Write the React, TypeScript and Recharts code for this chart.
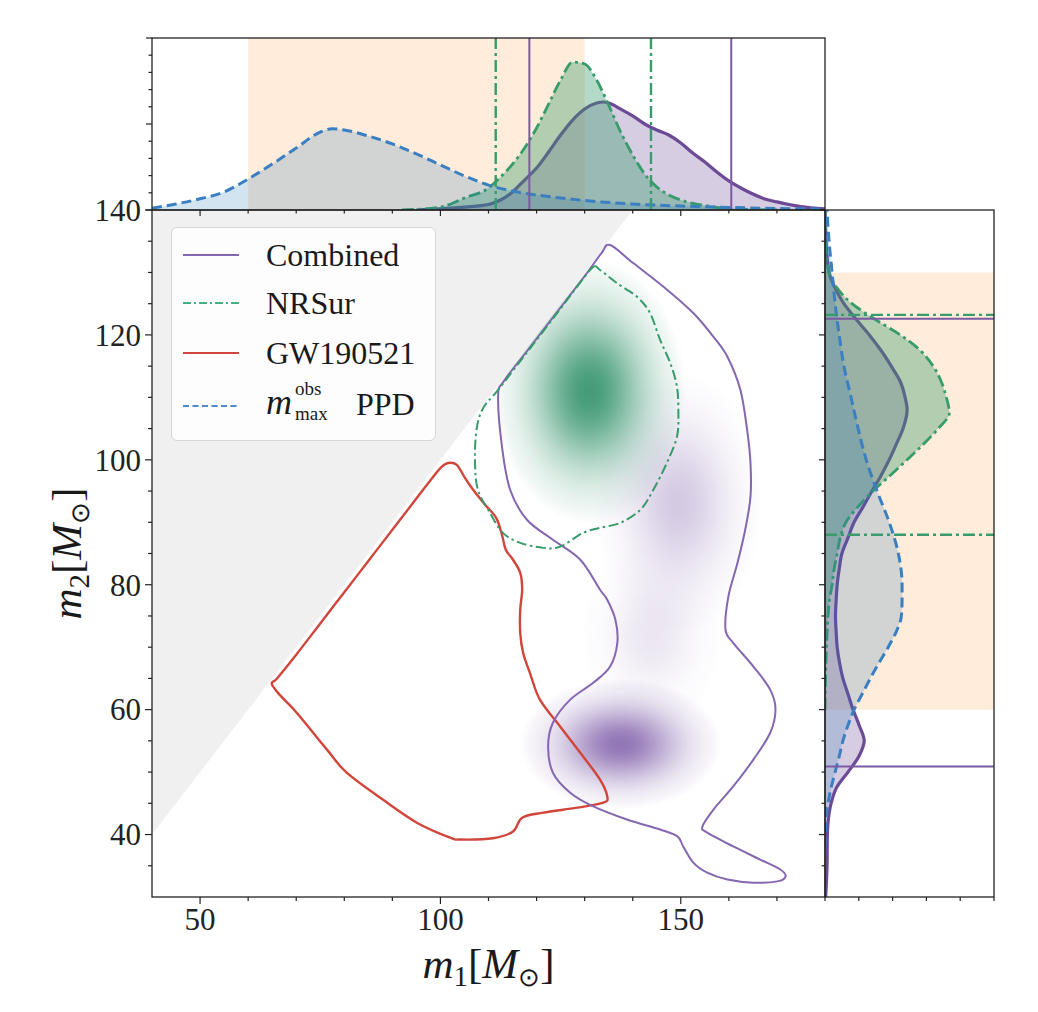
import React from 'react';
import { ComposedChart, Scatter, Area, XAxis, YAxis, ReferenceLine, ReferenceArea } from 'recharts';

// ---------- layout ----------
const W = 1038, H = 1012;
const PL = 152, PR = 825, PT = 210, PB = 897, TT = 38, RR = 994;
const YW = 60, XH = 40;
const M1_DOMAIN: [number, number] = [40, 180];
const M2_DOMAIN: [number, number] = [30, 140];
const PX_X = (PR - PL) / (M1_DOMAIN[1] - M1_DOMAIN[0]);
const PX_Y = (PB - PT) / (M2_DOMAIN[1] - M2_DOMAIN[0]);
const FONT = '"Liberation Serif", "Times New Roman", serif';

// ---------- ticks ----------
const m1Ticks = [50, 60, 70, 80, 90, 100, 110, 120, 130, 140, 150, 160, 170];
const m1Majors = [50, 100, 150];
const m2Ticks = [35, 40, 45, 50, 55, 60, 65, 70, 75, 80, 85, 90, 95, 100, 105, 110, 115, 120, 125, 130, 135, 140];
const m2Majors = [40, 60, 80, 100, 120, 140];
const topDensTicks = [0, 1, 2, 3, 4, 5, 6, 7, 8, 9, 10];
const topDensMajors = [0, 5, 10];
const rightDensTicks = [0, 1, 2, 3, 4, 5];

// ---------- marginal densities: m1 (top panel) ----------
const ppdM1 = [
  { m: 40, d: 0.1 }, { m: 45, d: 0.35 }, { m: 50, d: 0.65 }, { m: 55, d: 1.05 }, { m: 60, d: 1.8 },
  { m: 65, d: 2.67 }, { m: 70, d: 3.6 }, { m: 75, d: 4.53 }, { m: 77.5, d: 4.72 }, { m: 80, d: 4.65 },
  { m: 85, d: 4.3 }, { m: 90, d: 3.84 }, { m: 95, d: 3.26 }, { m: 100, d: 2.62 }, { m: 105, d: 1.98 },
  { m: 110, d: 1.45 }, { m: 115, d: 1.1 }, { m: 120, d: 0.87 }, { m: 125, d: 0.7 }, { m: 130, d: 0.55 },
  { m: 140, d: 0.35 }, { m: 150, d: 0.23 }, { m: 160, d: 0.15 }, { m: 170, d: 0.09 }, { m: 180, d: 0.06 },
];
const nrsurM1 = [
  { m: 92, d: 0 }, { m: 100, d: 0.17 }, { m: 105, d: 0.7 }, { m: 110, d: 1.28 }, { m: 112.5, d: 1.92 },
  { m: 115, d: 2.67 }, { m: 117.5, d: 3.6 }, { m: 120, d: 4.77 }, { m: 122.5, d: 6.16 }, { m: 125, d: 7.56 },
  { m: 127.5, d: 8.6 }, { m: 130, d: 8.49 }, { m: 132.5, d: 7.56 }, { m: 135, d: 6.1 }, { m: 137.5, d: 4.53 },
  { m: 140, d: 3.2 }, { m: 142.5, d: 2.09 }, { m: 145, d: 1.34 }, { m: 147.5, d: 0.87 }, { m: 150, d: 0.58 },
  { m: 155, d: 0.26 }, { m: 160, d: 0.09 }, { m: 165, d: 0.02 }, { m: 170, d: 0 },
];
const combinedM1 = [
  { m: 95, d: 0 }, { m: 100, d: 0.06 }, { m: 105, d: 0.17 }, { m: 110, d: 0.32 }, { m: 112.5, d: 0.58 },
  { m: 115, d: 1.05 }, { m: 117.5, d: 1.74 }, { m: 120, d: 2.44 }, { m: 122.5, d: 3.37 }, { m: 125, d: 4.36 },
  { m: 127.5, d: 5.23 }, { m: 130, d: 5.87 }, { m: 132.5, d: 6.22 }, { m: 134, d: 6.28 }, { m: 135, d: 6.22 },
  { m: 137.5, d: 5.87 }, { m: 140, d: 5.47 }, { m: 142.5, d: 5.0 }, { m: 145, d: 4.65 }, { m: 147.5, d: 4.36 },
  { m: 150, d: 3.9 }, { m: 152.5, d: 3.31 }, { m: 155, d: 2.79 }, { m: 157.5, d: 2.21 }, { m: 160, d: 1.69 },
  { m: 162.5, d: 1.28 }, { m: 165, d: 0.93 }, { m: 167.5, d: 0.64 }, { m: 170, d: 0.47 }, { m: 172.5, d: 0.32 },
  { m: 175, d: 0.2 }, { m: 180, d: 0.06 },
];

// ---------- marginal densities: m2 (right panel) ----------
const ppdM2 = [
  { m: 38, d: 0 }, { m: 40, d: 0.01 }, { m: 42.5, d: 0.03 }, { m: 45, d: 0.09 }, { m: 47.5, d: 0.18 },
  { m: 50, d: 0.3 }, { m: 52.5, d: 0.42 }, { m: 55, d: 0.53 }, { m: 57.5, d: 0.68 }, { m: 60, d: 0.86 },
  { m: 62.5, d: 1.1 }, { m: 65, d: 1.34 }, { m: 67.5, d: 1.6 }, { m: 70, d: 1.87 }, { m: 72.5, d: 2.11 },
  { m: 75, d: 2.26 }, { m: 77.5, d: 2.28 }, { m: 80, d: 2.28 }, { m: 85, d: 2.17 }, { m: 90, d: 1.9 },
  { m: 95, d: 1.54 }, { m: 100, d: 1.22 }, { m: 105, d: 0.98 }, { m: 110, d: 0.77 }, { m: 115, d: 0.56 },
  { m: 120, d: 0.42 }, { m: 125, d: 0.3 }, { m: 130, d: 0.21 }, { m: 135, d: 0.12 }, { m: 140, d: 0.06 },
];
const nrsurM2 = [
  { m: 60, d: 0 }, { m: 65, d: 0.015 }, { m: 70, d: 0.045 }, { m: 75, d: 0.09 }, { m: 77.5, d: 0.13 },
  { m: 80, d: 0.21 }, { m: 82.5, d: 0.27 }, { m: 85, d: 0.36 }, { m: 87.5, d: 0.45 }, { m: 90, d: 0.62 },
  { m: 92.5, d: 0.98 }, { m: 95, d: 1.42 }, { m: 97.5, d: 1.93 }, { m: 100, d: 2.43 }, { m: 102.5, d: 2.91 },
  { m: 105, d: 3.35 }, { m: 107.5, d: 3.68 }, { m: 110, d: 3.59 }, { m: 112.5, d: 3.44 }, { m: 115, d: 3.2 },
  { m: 117.5, d: 2.82 }, { m: 120, d: 2.23 }, { m: 122.5, d: 1.48 }, { m: 125, d: 0.8 }, { m: 127.5, d: 0.36 },
  { m: 130, d: 0.12 }, { m: 135, d: 0.015 }, { m: 140, d: 0 },
];
const combinedM2 = [
  { m: 30, d: 0.02 }, { m: 35, d: 0.06 }, { m: 40, d: 0.07 }, { m: 42.5, d: 0.1 }, { m: 45, d: 0.18 },
  { m: 47.5, d: 0.34 }, { m: 50, d: 0.68 }, { m: 52.5, d: 1.0 }, { m: 55, d: 1.16 }, { m: 57.5, d: 1.01 },
  { m: 60, d: 0.83 }, { m: 62.5, d: 0.68 }, { m: 65, d: 0.53 }, { m: 67.5, d: 0.43 }, { m: 70, d: 0.36 },
  { m: 72.5, d: 0.33 }, { m: 75, d: 0.31 }, { m: 77.5, d: 0.33 }, { m: 80, d: 0.36 }, { m: 82.5, d: 0.42 },
  { m: 85, d: 0.5 }, { m: 87.5, d: 0.68 }, { m: 90, d: 0.86 }, { m: 92.5, d: 1.13 }, { m: 95, d: 1.39 },
  { m: 97.5, d: 1.66 }, { m: 100, d: 1.9 }, { m: 102.5, d: 2.11 }, { m: 105, d: 2.31 }, { m: 108, d: 2.43 },
  { m: 110, d: 2.37 }, { m: 112.5, d: 2.23 }, { m: 115, d: 1.96 }, { m: 117.5, d: 1.66 }, { m: 120, d: 1.31 },
  { m: 122.5, d: 0.92 }, { m: 125, d: 0.56 }, { m: 127.5, d: 0.3 }, { m: 130, d: 0.12 }, { m: 135, d: 0.03 },
  { m: 140, d: 0 },
];

// ---------- credible bounds & m_max band ----------
const nrsurM1Bounds = [111.5, 143.8];
const combinedM1Bounds = [118.5, 160.5];
const nrsurM2Bounds = [123.2, 88.0];
const combinedM2Bounds = [122.6, 50.9];
const mmaxBand = [60, 130];

// ---------- joint plane ----------
const excludedRegion = [{ x: 40, y: 40 }, { x: 140, y: 140 }, { x: 40, y: 140 }];

const nrsurDensity = [{ x: 131, y: 111, sx: 8, sy: 8.5, w: 0.95 }];
const combinedDensity = [
  { x: 144, y: 72, sx: 6, sy: 6, w: 0.15 },
  { x: 149.5, y: 93, sx: 7, sy: 8.4, w: 0.32 },
  { x: 137.5, y: 54.5, sx: 8.4, sy: 4.2, w: 0.82 },
];

const combinedContour = [
  [135.3, 134.4], [140.1, 131.5], [147.2, 127.2], [152.6, 123.5], [156.8, 119.7], [159.7, 116.5],
  [162.4, 111.2], [163.8, 104.8], [164.5, 99.5], [164.5, 94.1], [163.4, 88.8], [161.8, 83.5],
  [159.9, 78.1], [159.3, 72.8], [160.9, 70.7], [165.1, 66.9], [168.6, 63.2], [169.7, 60.0],
  [168.6, 56.3], [165.1, 52.0], [160.9, 47.7], [156.8, 44.0], [154.5, 41.3], [155.5, 40.3],
  [160.9, 38.1], [166.5, 36.0], [170.7, 34.4], [171.8, 33.3], [170.1, 32.5], [165.1, 32.3],
  [159.7, 32.8], [155.5, 33.9], [152.6, 35.5], [150.5, 38.1], [149.3, 39.7], [145.7, 40.8],
  [138.8, 42.4], [131.8, 44.5], [127.0, 46.7], [123.4, 49.9], [122.4, 54.1], [123.4, 57.9],
  [127.0, 61.6], [131.8, 64.3], [135.3, 66.9], [136.8, 70.7], [136.4, 74.4], [134.7, 77.6],
  [133.2, 79.2], [129.1, 84.0], [123.4, 87.2], [118.0, 90.4], [114.5, 95.2], [112.8, 102.1],
  [112.0, 110.3], [113.2, 112.6], [118.0, 117.4], [124.0, 123.4], [130.0, 129.4], [133.5, 133.1],
].map(([x, y]) => ({ x, y }));

const nrsurContour = [
  [131.8, 130.9], [133.2, 130.4], [136.7, 128.3], [140.9, 126.1], [143.6, 123.5], [145.7, 119.2],
  [147.8, 115.5], [149.2, 111.7], [149.5, 107.5], [149.2, 103.7], [147.1, 99.5], [144.3, 95.2],
  [141.6, 92.0], [137.4, 89.9], [133.2, 89.1], [129.7, 88.3], [124.9, 86.1], [121.4, 85.9],
  [116.6, 86.7], [113.0, 88.3], [110.3, 91.5], [107.8, 95.2], [107.2, 99.5], [107.5, 104.8],
  [108.9, 108.3], [112.0, 111.2], [118.0, 117.2], [124.0, 123.2], [129.0, 128.3],
].map(([x, y]) => ({ x, y }));

const gw190521Contour = [
  [101.6, 99.5], [103.4, 99.2], [105.1, 97.1], [106.8, 95.2], [109.3, 92.8], [111.6, 90.7],
  [112.8, 88.0], [113.6, 85.6], [115.1, 84.0], [116.6, 81.9], [117.0, 79.2], [116.6, 76.0],
  [116.6, 72.3], [117.2, 69.1], [118.6, 65.9], [120.7, 61.6], [124.9, 57.3], [129.1, 53.1],
  [133.2, 48.8], [134.7, 46.1], [133.9, 45.1], [128.4, 44.3], [121.4, 43.5], [117.0, 42.7],
  [115.1, 40.5], [110.9, 39.4], [104.1, 39.2], [102.0, 39.5], [95.1, 41.9], [88.0, 45.6],
  [80.5, 49.9], [76.4, 53.6], [70.1, 59.5], [66.3, 62.6], [64.9, 64.2], [66.0, 65.0],
  [70.0, 68.8], [75.0, 73.8], [80.0, 78.8], [85.0, 83.8], [90.0, 88.8], [95.0, 93.8],
  [98.5, 97.3], [100.3, 98.9],
].map(([x, y]) => ({ x, y }));

// ---------- colours ----------
const PURPLE = '#6c4a96';
const PURPLE_C = '#8566b0';
const GREEN = '#379b6b';
const BLUE = '#3a7fc1';
const RED = '#d2453a';
const BAND = '#ffecdb';
const GREY = '#f0f0f0';
const DASHDOT = '12 4 3 4';
const DASHED = '10 5';

// ---------- helpers ----------
const NoPoint = () => <g />;

function closedSmoothPath(pts: { x: number; y: number }[]) {
  const n = pts.length;
  if (!n) return '';
  let d = `M${pts[0].x},${pts[0].y}`;
  for (let i = 0; i < n; i++) {
    const p0 = pts[(i - 1 + n) % n], p1 = pts[i], p2 = pts[(i + 1) % n], p3 = pts[(i + 2) % n];
    const c1x = p1.x + (p2.x - p0.x) / 6, c1y = p1.y + (p2.y - p0.y) / 6;
    const c2x = p2.x - (p3.x - p1.x) / 6, c2y = p2.y - (p3.y - p1.y) / 6;
    d += ` C${c1x},${c1y} ${c2x},${c2y} ${p2.x},${p2.y}`;
  }
  return d + 'Z';
}

const contourLine = (stroke: string, width: number, dash?: string) => (lp: any) => (
  <path d={closedSmoothPath(lp.points || [])} fill="none" stroke={stroke} strokeWidth={width}
    strokeDasharray={dash} strokeLinejoin="round" strokeLinecap="butt" />
);

const filledPolygon = (fill: string) => (lp: any) => (
  <polygon points={(lp.points || []).map((p: any) => `${p.x},${p.y}`).join(' ')} fill={fill} stroke="none" />
);

const GAUSS_STOPS = [0, 0.1, 0.2, 0.3, 0.4, 0.5, 0.6, 0.7, 0.8, 0.9, 1].map((t) => [
  t, t === 1 ? 0 : Math.exp(-((t * 2.5) ** 2) / 2),
]);

const makeBlob = (color: string, gid: string) => (props: any) => {
  const { cx, cy, payload } = props;
  if (cx == null || cy == null || !payload) return <g />;
  return (
    <g>
      <defs>
        <radialGradient id={gid}>
          {GAUSS_STOPS.map(([o, a]) => <stop key={o} offset={o} stopColor={color} stopOpacity={a} />)}
        </radialGradient>
      </defs>
      <ellipse cx={cx} cy={cy} rx={payload.sx * 2.5 * PX_X} ry={payload.sy * 2.5 * PX_Y}
        fill={`url(#${gid})`} opacity={payload.w} />
    </g>
  );
};

type TickOpts = { orient: 'bottom' | 'left'; majors: number[]; majorLen: number; minorLen: number; label: boolean };
const makeTick = (o: TickOpts) => (props: any) => {
  const { x, y, payload } = props;
  const v = payload?.value;
  const isMajor = o.majors.some((m) => Math.abs(m - v) < 1e-9);
  const len = isMajor ? o.majorLen : o.minorLen;
  if (o.orient === 'bottom') {
    return (
      <g>
        <line x1={x} x2={x} y1={y} y2={y + len} stroke="#222" strokeWidth={1.2} />
        {o.label && isMajor && (
          <text x={x} y={y + 33} textAnchor="middle" fontSize={31} fontFamily={FONT} fill="#222">{v}</text>
        )}
      </g>
    );
  }
  return (
    <g>
      <line x1={x - len} x2={x} y1={y} y2={y} stroke="#222" strokeWidth={1.2} />
      {o.label && isMajor && (
        <text x={x - 11} y={y} dy="0.35em" textAnchor="end" fontSize={31} fontFamily={FONT} fill="#222">{v}</text>
      )}
    </g>
  );
};

const mainXTick = makeTick({ orient: 'bottom', majors: m1Majors, majorLen: 7, minorLen: 4, label: true });
const mainYTick = makeTick({ orient: 'left', majors: m2Majors, majorLen: 7, minorLen: 4, label: true });
const topXTick = makeTick({ orient: 'bottom', majors: m1Majors, majorLen: 6, minorLen: 3.5, label: false });
const topYTick = makeTick({ orient: 'left', majors: topDensMajors, majorLen: 6, minorLen: 3.5, label: false });
const rightXTick = makeTick({ orient: 'bottom', majors: [], majorLen: 4, minorLen: 4, label: false });
const rightYTick = makeTick({ orient: 'left', majors: m2Majors, majorLen: 6, minorLen: 3.5, label: false });

const abs: React.CSSProperties = { position: 'absolute', left: 0, top: 0 };

function LegendBox() {
  const rows = [
    { key: 'c', color: PURPLE_C, dash: undefined as string | undefined, label: <span>Combined</span> },
    { key: 'n', color: '#45ad84', dash: '8 3 2 3', label: <span>NRSur</span> },
    { key: 'g', color: RED, dash: undefined, label: <span>GW190521</span> },
    {
      key: 'p', color: '#4a8ccb', dash: '6 3.5',
      label: (
        <span style={{ position: 'relative', display: 'inline-block', height: 40, width: 160 }}>
          <span style={{ position: 'absolute', left: 0, top: 1, fontStyle: 'italic', fontSize: 36 }}>m</span>
          <span style={{ position: 'absolute', left: 29, top: -3, fontSize: 19, lineHeight: '18px' }}>obs</span>
          <span style={{ position: 'absolute', left: 29, top: 22, fontSize: 19, lineHeight: '18px' }}>max</span>
          <span style={{ position: 'absolute', left: 90, top: 3 }}>PPD</span>
        </span>
      ),
    },
  ];
  const centers = [27, 75, 125, 178];
  return (
    <div style={{
      position: 'absolute', left: 171, top: 227, width: 265, height: 214, boxSizing: 'border-box',
      border: '1px solid #d6d6d6', borderRadius: 6, background: 'rgba(255,255,255,0.82)',
      fontFamily: FONT, fontSize: 32, lineHeight: '36px', color: '#1a1a1a',
    }}>
      {rows.map((r, i) => (
        <div key={r.key} style={{ position: 'absolute', left: 0, top: centers[i] - 20, height: 40, width: '100%', display: 'flex', alignItems: 'center' }}>
          <svg width={58} height={10} style={{ marginLeft: 11, flex: 'none' }}>
            <line x1={0} x2={56} y1={5} y2={5} stroke={r.color} strokeWidth={2.2} strokeDasharray={r.dash} />
          </svg>
          <div style={{ marginLeft: 25, whiteSpace: 'nowrap' }}>{r.label}</div>
        </div>
      ))}
    </div>
  );
}

export default function App() {
  const midX = (PL + PR) / 2;
  const midY = (PT + PB) / 2;
  return (
    <div style={{ position: 'absolute', left: 0, top: 0, width: W, height: H, background: '#fff', overflow: 'hidden' }}>
      {/* joint plot */}
      <div style={abs}>
        <ComposedChart width={W} height={H} margin={{ top: PT, right: W - PR, bottom: H - PB - XH, left: PL - YW }}>
          <XAxis type="number" dataKey="x" domain={M1_DOMAIN} ticks={m1Ticks} interval={0} allowDataOverflow
            tickSize={0} tickMargin={0} tickLine={false} axisLine={false} height={XH} tick={mainXTick} />
          <YAxis type="number" dataKey="y" domain={M2_DOMAIN} ticks={m2Ticks} interval={0} allowDataOverflow
            tickSize={0} tickMargin={0} tickLine={false} axisLine={false} width={YW} tick={mainYTick} />
          <Scatter data={combinedDensity} shape={makeBlob('#7a58a6', 'gradCombined')} isAnimationActive={false} />
          <Scatter data={nrsurDensity} shape={makeBlob('#3a9670', 'gradNrsur')} isAnimationActive={false} />
          <Scatter data={excludedRegion} shape={NoPoint} line={filledPolygon(GREY)} isAnimationActive={false} />
          <Scatter data={gw190521Contour} shape={NoPoint} line={contourLine(RED, 2.4)} isAnimationActive={false} />
          <Scatter data={combinedContour} shape={NoPoint} line={contourLine(PURPLE_C, 2)} isAnimationActive={false} />
          <Scatter data={nrsurContour} shape={NoPoint} line={contourLine(GREEN, 2, '10 3.5 2.5 3.5')} isAnimationActive={false} />
        </ComposedChart>
      </div>

      {/* top marginal: m1 */}
      <div style={abs}>
        <ComposedChart width={W} height={260} margin={{ top: TT, right: W - PR, bottom: 260 - PT - 10, left: PL - YW }}>
          <XAxis type="number" dataKey="m" domain={M1_DOMAIN} ticks={m1Ticks} interval={0} allowDataOverflow
            tickSize={0} tickMargin={0} tickLine={false} axisLine={false} height={10} tick={topXTick} />
          <YAxis type="number" domain={[0, 10]} ticks={topDensTicks} interval={0} allowDataOverflow
            tickSize={0} tickMargin={0} tickLine={false} axisLine={false} width={YW} tick={topYTick} />
          <ReferenceArea x1={mmaxBand[0]} x2={mmaxBand[1]} fill={BAND} fillOpacity={1} stroke="none" zIndex={50} />
          <Area data={combinedM1} dataKey="d" type="monotone" stroke={PURPLE} strokeWidth={3.2}
            fill="#6e4b96" fillOpacity={0.28} isAnimationActive={false} dot={false} activeDot={false} />
          <Area data={nrsurM1} dataKey="d" type="monotone" stroke={GREEN} strokeWidth={2.8} strokeDasharray={DASHDOT}
            fill="#389b6b" fillOpacity={0.38} isAnimationActive={false} dot={false} activeDot={false} />
          <Area data={ppdM1} dataKey="d" type="monotone" stroke={BLUE} strokeWidth={3} strokeDasharray={DASHED}
            fill="#1f77b4" fillOpacity={0.2} isAnimationActive={false} dot={false} activeDot={false} />
          {nrsurM1Bounds.map((v) => (
            <ReferenceLine key={`n${v}`} x={v} stroke={GREEN} strokeWidth={2.4} strokeDasharray={DASHDOT} zIndex={400} />
          ))}
          {combinedM1Bounds.map((v) => (
            <ReferenceLine key={`c${v}`} x={v} stroke="#7a5aa3" strokeWidth={2} zIndex={400} />
          ))}
        </ComposedChart>
      </div>

      {/* right marginal: m2 */}
      <div style={abs}>
        <ComposedChart layout="vertical" width={W} height={H} margin={{ top: PT, right: W - RR, bottom: H - PB - 10, left: PR - YW }}>
          <XAxis type="number" domain={[0, 5]} ticks={rightDensTicks} interval={0} allowDataOverflow
            tickSize={0} tickMargin={0} tickLine={false} axisLine={false} height={10} tick={rightXTick} />
          <YAxis type="number" dataKey="m" domain={M2_DOMAIN} ticks={m2Ticks} interval={0} allowDataOverflow reversed
            tickSize={0} tickMargin={0} tickLine={false} axisLine={false} width={YW} tick={rightYTick} />
          <ReferenceArea y1={mmaxBand[0]} y2={mmaxBand[1]} fill={BAND} fillOpacity={1} stroke="none" zIndex={50} />
          <Area data={combinedM2} dataKey="d" type="monotone" stroke={PURPLE} strokeWidth={3.2}
            fill="#6e4b96" fillOpacity={0.28} isAnimationActive={false} dot={false} activeDot={false} />
          <Area data={nrsurM2} dataKey="d" type="monotone" stroke={GREEN} strokeWidth={2.8} strokeDasharray={DASHDOT}
            fill="#389b6b" fillOpacity={0.38} isAnimationActive={false} dot={false} activeDot={false} />
          <Area data={ppdM2} dataKey="d" type="monotone" stroke={BLUE} strokeWidth={3} strokeDasharray={DASHED}
            fill="#1f77b4" fillOpacity={0.2} isAnimationActive={false} dot={false} activeDot={false} />
          {nrsurM2Bounds.map((v) => (
            <ReferenceLine key={`n${v}`} y={v} stroke={GREEN} strokeWidth={2.4} strokeDasharray={DASHDOT} zIndex={400} />
          ))}
          {combinedM2Bounds.map((v) => (
            <ReferenceLine key={`c${v}`} y={v} stroke="#7a5aa3" strokeWidth={2} zIndex={400} />
          ))}
        </ComposedChart>
      </div>

      {/* frames and axis titles */}
      <svg width={W} height={H} style={{ ...abs, pointerEvents: 'none' }}>
        <rect x={PL} y={PT} width={PR - PL} height={PB - PT} fill="none" stroke="#222" strokeWidth={1.3} />
        <rect x={PL} y={TT} width={PR - PL} height={PT - TT} fill="none" stroke="#222" strokeWidth={1.3} />
        <rect x={PR} y={PT} width={RR - PR} height={PB - PT} fill="none" stroke="#222" strokeWidth={1.3} />
        <text x={midX} y={978} textAnchor="middle" fontSize={43} fontFamily={FONT} fill="#1a1a1a">
          <tspan fontStyle="italic">m</tspan>
          <tspan fontSize={29} dy={8}>1</tspan>
          <tspan dy={-8}>[</tspan>
          <tspan fontStyle="italic">M</tspan>
          <tspan fontSize={26} dy={8}>⊙</tspan>
          <tspan dy={-8}>]</tspan>
        </text>
        <text transform={`translate(81,${midY}) rotate(-90)`} textAnchor="middle" fontSize={43} fontFamily={FONT} fill="#1a1a1a">
          <tspan fontStyle="italic">m</tspan>
          <tspan fontSize={29} dy={8}>2</tspan>
          <tspan dy={-8}>[</tspan>
          <tspan fontStyle="italic">M</tspan>
          <tspan fontSize={26} dy={8}>⊙</tspan>
          <tspan dy={-8}>]</tspan>
        </text>
      </svg>

      <LegendBox />
    </div>
  );
}
